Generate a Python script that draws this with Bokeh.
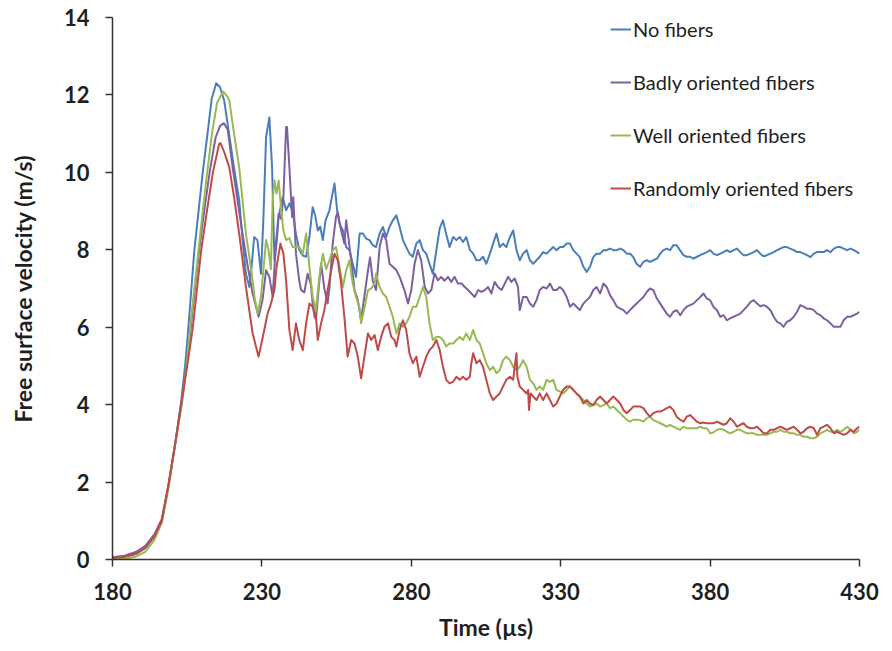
from bokeh.plotting import figure
from bokeh.models import Range1d, FixedTicker, Legend, LegendItem
from bokeh.embed import file_html
from bokeh.resources import INLINE

# ---------------- data (time in µs, velocity in m/s) ----------------
x_ticks = [180, 230, 280, 330, 380, 430]
y_ticks = [0, 2, 4, 6, 8, 10, 12, 14]

series_names = ["No fibers", "Badly oriented fibers", "Well oriented fibers", "Randomly oriented fibers"]
series_colors = ["#4A7EBB", "#7D60A0", "#98B954", "#BE4B48"]

no_fibers_t = [180, 184, 188, 191, 194, 196.5, 198.7, 201, 203, 204.3, 205.4, 206.4, 207.4, 208.8, 210.2, 211.8, 213.2, 214.7, 216, 217.4, 219, 220.5, 222.4, 223.6, 224.65, 225.8, 226.6, 227.4, 228.5, 229.7, 230.5, 231.4, 232.5, 233.4, 234.2, 234.9, 235.6, 236.95, 238.1, 239.2, 240.3, 241.4, 242.5, 243.7, 244.8, 245.9, 247, 247.8, 248.7, 249.5, 250.4, 251.3, 252.6, 253.5, 254.3, 255.2, 256, 257.1, 258.2, 259.3, 260.4, 261.5, 262.7, 263.8, 264.9, 266, 267.1, 268.2, 269.4, 270.5, 271.6, 272.7, 273.8, 275, 276.1, 277.2, 278.3, 279.4, 280.5, 281.7, 282.8, 283.9, 285, 286.1, 287.2, 288.4, 289.5, 290.6, 291.7, 292.8, 294, 295.1, 296.2, 297.3, 298.4, 299.6, 300.7, 301.8, 302.9, 304, 305.1, 306.3, 307.4, 308.5, 309.6, 310.7, 311.8, 313, 314.1, 315.2, 316.3, 317.4, 318.6, 319.7, 320.8, 321.9, 323, 324.1, 325.3, 326.4, 327.5, 328.6, 329.7, 330.8, 332, 333.1, 334.2, 335.3, 336.4, 337.6, 338.7, 339.8, 340.9, 342, 343.2, 344.3, 345.4, 346.5, 347.6, 348.8, 349.9, 351, 352.1, 353.2, 354.3, 355.4, 356.6, 357.7, 358.8, 359.9, 361, 362.2, 363.3, 364.4, 365.5, 366.6, 367.7, 368.8, 369.9, 371.1, 372.2, 373.3, 374.4, 375.6, 376.7, 377.8, 378.9, 380, 381.1, 382.3, 383.4, 384.5, 385.6, 386.7, 387.9, 389, 390.1, 391.2, 392.3, 393.5, 394.6, 395.7, 396.8, 397.9, 399, 400.2, 401.3, 402.4, 403.5, 404.6, 405.7, 406.8, 408, 409.1, 410.2, 411.3, 412.4, 413.6, 414.7, 415.8, 416.9, 418, 419.1, 420.3, 421.4, 422.5, 423.6, 424.7, 425.9, 427, 428.1, 429.2, 430]
no_fibers_v = [0.05, 0.07, 0.15, 0.30, 0.60, 1.00, 1.90, 3.00, 4.10, 5.00, 6.00, 7.00, 8.00, 9.00, 10.00, 11.00, 11.90, 12.30, 12.20, 11.85, 11.00, 10.20, 9.28, 8.20, 7.38, 7.04, 7.60, 8.33, 8.25, 7.38, 8.8, 10.91, 11.42, 10.13, 7.73, 8.16, 8.85, 9.36, 9.02, 9.2, 9.0, 8.4, 8.0, 7.85, 7.82, 8.33, 9.1, 8.9, 8.5, 8.6, 8.25, 8.76, 9.02, 9.4, 9.71, 9.0, 8.67, 8.5, 8.07, 7.99, 7.64, 7.3, 8.42, 8.42, 8.29, 8.25, 8.12, 8.07, 8.42, 8.59, 8.33, 8.59, 8.76, 8.89, 8.59, 8.25, 8.07, 7.9, 7.82, 8.16, 8.25, 7.99, 7.9, 7.64, 7.38, 7.99, 8.55, 8.76, 8.4, 8.07, 8.33, 8.25, 8.33, 8.2, 8.33, 8.0, 7.9, 7.73, 7.73, 7.82, 7.64, 7.9, 8.16, 8.42, 8.07, 8.16, 8.07, 8.33, 8.5, 7.99, 7.73, 7.9, 7.99, 7.73, 7.64, 7.73, 7.82, 7.94, 7.9, 7.99, 8.07, 7.99, 8.07, 8.07, 8.16, 8.16, 7.99, 7.9, 7.81, 7.56, 7.43, 7.56, 7.81, 7.9, 7.9, 7.99, 7.99, 8.03, 7.99, 7.99, 8.03, 7.99, 7.9, 7.9, 7.81, 7.64, 7.56, 7.69, 7.73, 7.69, 7.73, 7.77, 7.9, 7.99, 8.03, 7.99, 8.12, 8.12, 7.99, 7.86, 7.82, 7.82, 7.77, 7.82, 7.86, 7.90, 7.94, 7.99, 7.90, 7.86, 7.90, 7.94, 7.99, 7.94, 7.99, 8.03, 7.94, 7.86, 7.86, 7.90, 7.94, 7.99, 7.90, 7.83, 7.86, 7.90, 7.94, 7.99, 8.03, 8.07, 8.07, 8.03, 7.99, 7.94, 7.94, 7.90, 7.86, 7.81, 7.90, 7.94, 7.94, 7.94, 7.99, 7.94, 8.03, 8.07, 8.07, 8.03, 7.99, 8.03, 7.99, 7.94, 7.90]

badly_t = [180, 184, 188, 191, 194, 196.5, 198.8, 201, 203, 204.8, 206.2, 207.6, 209, 210.7, 212.5, 214.5, 216, 217.3, 218.6, 220.2, 221.8, 223.5, 225.2, 226.9, 228.9, 230.2, 231.4, 232.5, 233.6, 234.7, 235.6, 236.4, 237.2, 238.1, 238.4, 239.2, 240.1, 240.5, 241.4, 242.5, 243.1, 244.2, 245.3, 246.4, 247, 247.6, 248.1, 249, 249.8, 250.9, 252, 252.6, 253.7, 254.8, 255.4, 256.5, 257.6, 258.2, 258.8, 259.9, 261, 262.1, 263.2, 264.3, 265.5, 266.2, 267.1, 268.2, 269.4, 270.5, 271.6, 272.7, 273.8, 275, 276.1, 277.7, 278.9, 280, 281.1, 282.2, 283.3, 284.5, 285.6, 286.7, 287.8, 288.9, 290, 291.1, 292.3, 293.4, 294.5, 295.6, 296.8, 297.9, 299, 300.1, 301.2, 302.4, 303.5, 304.6, 305.7, 306.8, 307.9, 309, 310.2, 311.3, 312.4, 313.5, 314.6, 315.7, 316.3, 317.4, 318.6, 319.7, 320.8, 321.9, 323, 324.1, 325.3, 326.4, 327.5, 328.6, 329.7, 330.8, 332, 333.1, 334.2, 335.3, 336.4, 337.6, 338.7, 339.8, 340.9, 342, 343.2, 344.3, 345.4, 346.5, 347.6, 348.8, 349.9, 351, 352.1, 353.2, 354.3, 355.4, 356.6, 357.7, 358.8, 359.9, 361, 362.2, 363.3, 364.4, 365.5, 366.6, 367.7, 368.8, 370, 371.1, 372.2, 373.3, 374.4, 375.6, 376.7, 377.8, 378.9, 380, 381.1, 382.3, 383.4, 384.5, 385.6, 386.7, 387.9, 389, 390.1, 391.2, 392.3, 393.5, 394.6, 395.7, 396.8, 397.9, 399, 400.2, 401.3, 402.4, 403.5, 404.6, 405.7, 406.8, 408, 409.1, 410.2, 411.3, 412.4, 413.6, 414.7, 415.8, 416.9, 418, 419.1, 420.3, 421.4, 422.5, 423.6, 424.7, 425.9, 427, 428.1, 429.2, 430]
badly_v = [0.06, 0.10, 0.20, 0.35, 0.65, 1.05, 1.95, 3.0, 4.0, 5.0, 6.0, 7.0, 8.0, 9.0, 10.0, 10.9, 11.2, 11.27, 11.1, 10.13, 9.3, 8.42, 7.6, 6.87, 6.27, 6.7, 7.47, 7.3, 6.78, 8.16, 8.93, 8.8, 9.36, 11.17, 11.17, 10.13, 8.85, 9.36, 7.9, 7.2, 6.96, 6.9, 7.38, 7.1, 6.6, 6.27, 6.2, 7.0, 7.64, 7.0, 6.61, 7.0, 8.16, 8.85, 8.97, 8.5, 8.16, 8.76, 8.4, 7.73, 6.96, 6.7, 6.18, 6.8, 7.47, 7.8, 7.2, 6.96, 8.07, 8.42, 8.25, 7.64, 7.56, 7.47, 7.3, 6.96, 6.61, 6.96, 7.64, 7.99, 7.73, 7.04, 6.87, 6.96, 7.39, 7.21, 7.3, 7.2, 7.3, 7.17, 7.3, 7.13, 7.13, 7.04, 6.96, 6.87, 6.78, 6.96, 6.91, 6.96, 7.04, 6.87, 7.17, 7.04, 6.96, 7.13, 7.3, 7.17, 7.26, 7.04, 6.44, 6.78, 6.78, 6.61, 6.53, 6.7, 6.96, 7.04, 7.0, 7.13, 6.96, 6.96, 7.04, 6.96, 6.78, 6.53, 6.61, 6.53, 6.44, 6.61, 6.7, 6.78, 6.96, 7.04, 6.87, 7.13, 7.04, 6.83, 6.7, 6.53, 6.48, 6.44, 6.35, 6.44, 6.53, 6.61, 6.7, 6.78, 6.91, 7.0, 6.96, 6.74, 6.61, 6.48, 6.35, 6.27, 6.40, 6.44, 6.31, 6.44, 6.53, 6.57, 6.61, 6.70, 6.78, 6.87, 6.74, 6.70, 6.53, 6.44, 6.27, 6.31, 6.18, 6.23, 6.27, 6.31, 6.35, 6.44, 6.53, 6.65, 6.70, 6.61, 6.54, 6.57, 6.53, 6.44, 6.27, 6.14, 6.10, 6.01, 6.14, 6.18, 6.27, 6.40, 6.57, 6.53, 6.48, 6.48, 6.44, 6.35, 6.31, 6.23, 6.18, 6.10, 6.01, 6.01, 6.01, 6.18, 6.27, 6.27, 6.31, 6.35, 6.40]

well_t = [180, 185, 188, 191, 194, 196.5, 198.9, 201, 203.2, 204.8, 206, 207.4, 208.8, 210.2, 211.7, 213.3, 215, 217, 218.5, 219.1, 220.5, 222.4, 224.65, 226.4, 227.5, 228.6, 229.7, 231.4, 232.2, 233, 233.6, 234.2, 234.9, 235.6, 236.4, 237.2, 238.1, 239.2, 240.3, 241.4, 242.5, 243.7, 244.8, 245.9, 247, 248.1, 249.2, 250.4, 251.5, 252.6, 253.7, 254.8, 256, 257.1, 258.2, 259.3, 260.4, 261.5, 262.6, 263.2, 264.4, 265.5, 266.6, 267.7, 268.2, 269.4, 270.5, 271.6, 272.7, 273.8, 275, 276.1, 277.2, 278.3, 279.4, 280.5, 281.7, 282.8, 283.9, 285, 286.1, 287.2, 288.4, 289.5, 290.6, 291.7, 292.8, 294, 295.1, 296.2, 297.3, 298.4, 299.6, 300.7, 301.8, 302.9, 304, 305.1, 306.3, 307.4, 308.5, 309.6, 310.7, 311.8, 313, 314.1, 315.2, 316.3, 317.4, 318.6, 319.7, 320.8, 321.9, 323, 324.1, 325.3, 326.4, 327.5, 328.6, 329.7, 330.8, 332, 333.1, 334.2, 335.3, 336.4, 337.6, 338.7, 339.8, 340.9, 342, 343.2, 344.3, 345.4, 346.5, 347.6, 348.8, 349.9, 351, 352.1, 353.2, 354.3, 355.4, 356.6, 357.7, 358.8, 359.9, 361, 362.2, 363.3, 364.4, 365.5, 366.6, 367.7, 368.8, 370, 371.1, 372.2, 373.3, 374.4, 375.6, 376.7, 377.8, 378.9, 380, 381.1, 382.3, 383.4, 384.5, 385.6, 386.7, 387.9, 389, 390.1, 391.2, 392.3, 393.5, 394.6, 395.7, 396.8, 397.9, 399, 400.2, 401.3, 402.4, 403.5, 404.6, 405.7, 406.8, 408, 409.1, 410.2, 411.3, 412.4, 413.6, 414.7, 415.8, 416.9, 418, 419.1, 420.3, 421.4, 422.5, 423.6, 424.7, 425.9, 427, 428.1, 429.2, 430]
well_v = [0.02, 0.03, 0.08, 0.2, 0.5, 0.95, 1.9, 3.0, 4.0, 5.0, 6.0, 7.0, 8.0, 9.0, 10.0, 11.0, 11.8, 12.09, 11.95, 11.85, 11.1, 10.13, 8.42, 7.5, 6.8, 6.35, 6.8, 8.25, 8.0, 7.5, 9.28, 9.79, 9.45, 9.79, 9.1, 8.5, 8.25, 8.3, 8.07, 8.07, 8.07, 7.9, 8.42, 7.56, 6.78, 6.44, 7.3, 7.9, 7.5, 7.73, 7.99, 8.07, 7.56, 7.04, 7.47, 7.73, 7.13, 6.78, 6.53, 6.1, 6.53, 6.96, 7.0, 7.13, 7.39, 7.04, 6.87, 6.78, 6.53, 6.27, 5.84, 6.1, 6.01, 6.1, 6.27, 6.53, 6.53, 6.78, 7.04, 6.78, 6.1, 5.67, 5.75, 5.75, 5.67, 5.5, 5.58, 5.58, 5.67, 5.75, 5.67, 5.84, 5.67, 5.93, 5.67, 5.58, 5.33, 5.07, 4.89, 4.98, 4.81, 4.89, 5.15, 5.24, 5.15, 4.98, 4.89, 4.98, 5.15, 4.98, 4.64, 4.55, 4.38, 4.47, 4.38, 4.64, 4.59, 4.64, 4.38, 4.34, 4.29, 4.38, 4.47, 4.38, 4.29, 4.21, 4.12, 4.03, 3.95, 3.99, 4.03, 3.95, 3.99, 4.03, 3.91, 3.95, 3.86, 3.78, 3.69, 3.61, 3.56, 3.61, 3.61, 3.60, 3.56, 3.65, 3.69, 3.60, 3.56, 3.52, 3.48, 3.43, 3.48, 3.43, 3.39, 3.35, 3.43, 3.39, 3.39, 3.39, 3.39, 3.43, 3.39, 3.39, 3.26, 3.28, 3.35, 3.37, 3.35, 3.30, 3.26, 3.30, 3.35, 3.35, 3.30, 3.26, 3.26, 3.26, 3.22, 3.22, 3.22, 3.22, 3.26, 3.30, 3.30, 3.35, 3.30, 3.30, 3.26, 3.26, 3.22, 3.22, 3.17, 3.17, 3.13, 3.13, 3.17, 3.26, 3.30, 3.35, 3.30, 3.30, 3.35, 3.30, 3.35, 3.43, 3.35, 3.26, 3.30, 3.35]

randomly_t = [180, 184, 188, 191, 194, 196.5, 198.8, 201, 203, 205, 206.9, 208.3, 209.7, 211.6, 213.6, 215.7, 216.2, 217.5, 219.1, 220.8, 222.4, 224.65, 226.9, 228.9, 230.8, 231.9, 233, 234.2, 234.9, 236.2, 237.2, 238.1, 239.2, 240.3, 241.4, 242.5, 243.7, 244.8, 245.9, 247, 248.1, 248.7, 249.8, 250.9, 252, 253.2, 254.3, 255.4, 256.5, 257.6, 258.7, 259.9, 261, 262.1, 263.2, 264.3, 265.5, 266.6, 267.7, 268.8, 269.9, 271, 272.2, 273.3, 274.4, 275, 276.1, 277.2, 278.3, 279.4, 280.5, 281.7, 282.8, 283.9, 285, 286.1, 287.2, 288.4, 289.5, 290.6, 291.7, 292.8, 294, 295.1, 296.2, 297.3, 298.4, 299.6, 300.1, 300.7, 301.8, 302.9, 304, 305.1, 306.3, 307.4, 308.5, 309.6, 310.7, 311.8, 313, 314.1, 314.6, 315.2, 315.5, 316.3, 317.4, 318.6, 319.1, 319.4, 319.9, 320.8, 321.9, 323, 324.1, 325.3, 326.4, 327.5, 328.6, 329.7, 330.8, 332, 333.1, 334.2, 335.3, 336.4, 337.6, 338.7, 339.8, 340.9, 342, 343.2, 344.3, 345.4, 346.5, 347.6, 348.8, 349.9, 351, 352.1, 353.2, 354.3, 355.4, 356.6, 357.7, 358.8, 359.9, 361, 362.2, 363.3, 364.4, 365.5, 366.6, 367.7, 368.8, 370, 371.1, 372.2, 373.3, 374.4, 375.6, 376.7, 377.8, 378.9, 380, 381.1, 382.3, 383.4, 384.5, 385.6, 386.7, 387.9, 389, 390.1, 391.2, 392.3, 393.5, 394.6, 395.7, 396.8, 397.9, 399, 400.2, 401.3, 402.4, 403.5, 404.6, 405.7, 406.8, 408, 409.1, 410.2, 411.3, 412.4, 413.6, 414.7, 415.8, 416.9, 418, 419.1, 420.3, 421.4, 422.5, 423.6, 424.7, 425.9, 427, 428.1, 429.2, 430]
randomly_v = [0.04, 0.07, 0.15, 0.3, 0.6, 1.0, 1.95, 3.0, 4.0, 5.0, 6.0, 7.0, 8.0, 9.0, 10.0, 10.74, 10.75, 10.5, 10.13, 9.3, 8.42, 7.04, 5.84, 5.24, 5.93, 6.35, 6.6, 6.96, 7.56, 8.16, 7.9, 7.21, 5.93, 5.41, 6.1, 5.67, 5.41, 6.1, 6.61, 6.53, 6.27, 5.67, 6.1, 6.44, 6.96, 7.47, 7.9, 7.73, 7.13, 6.27, 5.24, 5.67, 5.58, 5.24, 4.68, 5.24, 5.84, 5.67, 5.8, 5.41, 5.75, 6.01, 6.1, 5.75, 5.67, 5.5, 5.93, 6.18, 5.93, 5.32, 5.07, 5.24, 4.72, 4.98, 5.24, 5.41, 5.5, 5.67, 5.41, 4.98, 4.64, 4.55, 4.59, 4.72, 4.64, 4.72, 4.64, 4.72, 5.07, 5.33, 5.07, 5.15, 4.98, 4.64, 4.29, 4.12, 4.21, 4.29, 4.47, 4.64, 4.72, 4.64, 4.98, 5.33, 4.72, 4.47, 4.38, 4.29, 4.38, 3.86, 4.29, 4.21, 4.12, 4.29, 4.12, 4.29, 4.12, 3.95, 4.03, 4.21, 4.38, 4.47, 4.47, 4.38, 4.29, 4.21, 4.03, 4.12, 4.03, 3.99, 4.12, 4.21, 4.12, 4.03, 4.12, 4.21, 4.12, 4.03, 3.86, 3.78, 3.86, 3.95, 3.95, 3.95, 3.91, 3.78, 3.69, 3.78, 3.82, 3.82, 3.86, 3.91, 3.95, 3.86, 3.69, 3.61, 3.56, 3.69, 3.73, 3.65, 3.56, 3.52, 3.54, 3.52, 3.52, 3.52, 3.56, 3.52, 3.48, 3.52, 3.65, 3.56, 3.43, 3.48, 3.52, 3.43, 3.39, 3.39, 3.43, 3.35, 3.26, 3.26, 3.35, 3.35, 3.39, 3.43, 3.39, 3.35, 3.39, 3.43, 3.35, 3.26, 3.30, 3.39, 3.43, 3.39, 3.22, 3.39, 3.43, 3.48, 3.39, 3.26, 3.30, 3.26, 3.22, 3.26, 3.35, 3.30, 3.39, 3.43]

series_t = [no_fibers_t, badly_t, well_t, randomly_t]
series_v = [no_fibers_v, badly_v, well_v, randomly_v]

# ---------------- figure ----------------
FONT = "Lato"
TXT = "#1f1f1f"

p = figure(width=884, height=643, output_backend="svg", toolbar_location=None,
           x_range=Range1d(180, 430), y_range=Range1d(0, 14),
           min_border_left=112, min_border_right=25, min_border_top=17, min_border_bottom=84)
p.outline_line_color = None
p.xgrid.visible = False
p.ygrid.visible = False
p.background_fill_color = "white"
p.border_fill_color = "white"

renderers = []
for t, v, c in zip(series_t, series_v, series_colors):
    r = p.line(t, v, line_color=c, line_width=2, line_join="round")
    renderers.append(r)

for ax, ticks in ((p.xaxis[0], x_ticks), (p.yaxis[0], y_ticks)):
    ax.ticker = FixedTicker(ticks=ticks)
    ax.minor_tick_line_color = None
    ax.major_tick_in = 0
    ax.major_tick_out = 7
    ax.axis_line_color = "#333333"
    ax.axis_line_width = 1.5
    ax.major_tick_line_color = "#333333"
    ax.major_tick_line_width = 1.5
    ax.major_label_text_font = FONT
    ax.major_label_text_font_style = "bold"
    ax.major_label_text_font_size = "22px"
    ax.major_label_text_color = TXT
    ax.axis_label_text_font = FONT
    ax.axis_label_text_font_style = "bold"
    ax.axis_label_text_font_size = "23px"
    ax.axis_label_text_color = TXT

p.xaxis.axis_label = "Time (µs)"
p.yaxis.axis_label = "Free surface velocity (m/s)"
p.xaxis.major_label_standoff = 16
p.xaxis.axis_label_standoff = 10
p.yaxis.major_label_standoff = 16
p.yaxis.axis_label_standoff = 24

legend = Legend(
    items=[LegendItem(label=n, renderers=[r]) for n, r in zip(series_names, renderers)],
    location=(498, 359), glyph_width=21, glyph_height=24, label_height=24,
    spacing=29, padding=0, margin=0, label_standoff=2,
    border_line_alpha=0, background_fill_alpha=0,
    label_text_font=FONT, label_text_font_size="20px", label_text_color=TXT,
)
p.add_layout(legend)

open("out.html", "w").write(file_html(p, INLINE))
